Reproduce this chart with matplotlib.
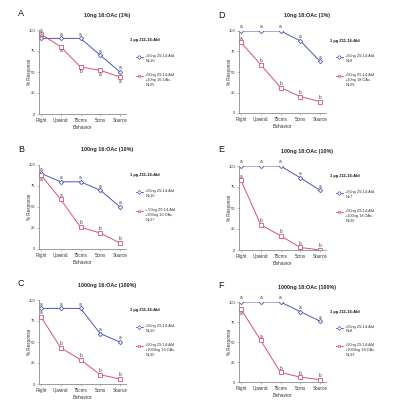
import numpy as np
import matplotlib
matplotlib.use("Agg")
import matplotlib.pyplot as plt
from matplotlib.lines import Line2D

plt.rcParams['font.family'] = ['Liberation Sans', 'DejaVu Sans']

## ------------------------------------------------------------
## 데이터
## ------------------------------------------------------------
behaviors = ["Flight", "Upwind", "75cms", "5cms", "Source"]
header = "1 µg Z11-16:Ald"

panel_ids = ["A", "B", "C", "D", "E", "F"]
titles = ["10ng 16:OAc (1%)", "100ng 16:OAc (10%)", "1000ng 16:OAc (100%)",
          "10ng 18:OAc (1%)", "100ng 18:OAc (10%)", "1000ng 18:OAc (100%)"]

blue_A = [90, 90, 90, 70, 50]
red_A  = [95, 80, 56, 52, 44]
blue_B = [90, 80, 80, 70, 50]
red_B  = [88, 59, 26, 19, 7]
blue_C = [90, 90, 90, 60, 50]
red_C  = [80, 43, 29, 11, 6]
blue_D = [100, 100, 100, 88, 63]
red_D  = [86, 59, 31, 20, 14]
blue_E = [100, 100, 100, 86, 71]
red_E  = [83, 30, 17, 3, 0]
blue_F = [100, 100, 100, 88, 76]
red_F  = [91, 52, 12, 6, 3]

blue_letters = ["a", "a", "a", "a", "a"]
red_let_A = ["a", "a", "b", "a", "a"]
red_let_B = ["a", "a", "b", "b", "b"]
red_let_C = ["a", "b", "b", "b", "b"]
red_let_D = ["a", "b", "b", "b", "b"]
red_let_E = ["a", "b", "b", "b", "b"]
red_let_F = ["a", "a", "b", "b", "b"]

blue_labels = ["+50ng Z9-14:Ald,\nN=10", "+50ng Z9-14:Ald,\nN=10", "+50ng Z9-14:Ald,\nN=10",
               "+50ng Z9-14:Ald,\nN=8", "+50ng Z9-14:Ald,\nN=7", "+50ng Z9-14:Ald,\nN=8"]
red_labels = ["+50ng Z9-14:Ald\n+10ng 16:OAc,\nN=25",
              "+ 50ng Z9-14:Ald\n+100ng 16:OAc,\nN=27",
              "+50ng Z9-14:Ald\n+1000ng 16:OAc,\nN=35",
              "+50ng Z9-14:Ald\n+10ng 18:OAc,\nN=29",
              "+50ng Z9-14:Ald\n+100ng 18:OAc,\nN=30",
              "+50ng Z9-14:Ald\n+1000ng 18:OAc,\nN=33"]

blues = [blue_A, blue_B, blue_C, blue_D, blue_E, blue_F]
reds  = [red_A, red_B, red_C, red_D, red_E, red_F]
red_letters = [red_let_A, red_let_B, red_let_C, red_let_D, red_let_E, red_let_F]

## 빨간 글자 위치 (1=위, -1=아래)
red_side = [[1, -1, -1, -1, -1],
            [-1, 1, 1, 1, 1],
            [1, 1, 1, 1, 1],
            [1, 1, 1, 1, 1],
            [1, 1, 1, 1, 1],
            [-1, 1, 1, 1, 1]]

BLUE = "#4a58b4"
RED = "#d8507d"
GRAY = "#8a8a8a"

W, H = 407, 413
fig = plt.figure(figsize=(W / 100, H / 100), dpi=100)

## 패널 위치 (픽셀: 왼쪽, y=100 위치, y=0 위치)
boxes = [(39, 30, 114), (39, 165, 249), (39, 300, 384),
         (239, 31, 113), (239, 166, 250), (239, 302, 382)]
ax_w = 87

x = np.arange(len(behaviors))

for i, (left, top, bot) in enumerate(boxes):
    ax = fig.add_axes([left / W, 1 - bot / H, ax_w / W, (bot - top) / H])

    ax.plot(x, blues[i], color=BLUE, lw=0.7, marker="D", ms=2.2,
            mfc="white", mec=BLUE, mew=0.6)
    ax.plot(x, reds[i], color=RED, lw=0.7, marker="s", ms=2.2,
            mfc="white", mec=RED, mew=0.6)

    # 통계 글자
    for j in range(len(x)):
        ax.annotate(blue_letters[j], (x[j], blues[i][j]), xytext=(0, 1.2),
                    textcoords="offset points", ha="center", va="bottom",
                    fontsize=3.4, color="#333333")
        side = red_side[i][j]
        ax.annotate(red_letters[i][j], (x[j], reds[i][j]),
                    xytext=(0, 1.2 * side), textcoords="offset points",
                    ha="center", va="bottom" if side > 0 else "top",
                    fontsize=3.4, color="#333333")

    ax.set_xlim(-0.1, 4.3)
    ax.set_ylim(0, 100)
    ax.set_xticks(x)
    ax.set_xticklabels(behaviors, fontsize=3.3)
    ax.set_yticks([0, 25, 50, 75, 100])
    ax.tick_params(axis="y", labelsize=3.0, length=1.5, width=0.4, pad=1, colors=GRAY, labelcolor="#333333")
    ax.tick_params(axis="x", length=1.5, width=0.4, pad=1.5, colors=GRAY, labelcolor="#333333")
    for s in ["top", "right"]:
        ax.spines[s].set_visible(False)
    for s in ["left", "bottom"]:
        ax.spines[s].set_color(GRAY)
        ax.spines[s].set_linewidth(0.6)
    ax.set_xlabel("Behavior", fontsize=3.5, labelpad=1.5, color="#333333")
    ax.set_ylabel("% Response", fontsize=3.3, labelpad=1, color="#333333")
    ax.yaxis.set_label_coords(-0.085, 0.5)

    # 제목 / 패널 글자
    fig.text((left + 68) / W, 1 - (top - 15) / H, titles[i], fontsize=3.9,
             fontweight="bold", ha="center", va="center", color="#222222")
    fig.text((left - 21) / W, 1 - (top - 16) / H, panel_ids[i], fontsize=6.5,
             ha="left", va="center", color="#111111")

    # 범례 (수동)
    ax.text(1.05, 0.88, header, transform=ax.transAxes, fontsize=2.9,
            fontweight="bold", ha="left", va="center", color="#111111")
    for yy, col, mk, lab in [(0.68, BLUE, "D", blue_labels[i]),
                             (0.45, RED, "s", red_labels[i])]:
        ax.add_line(Line2D([1.11, 1.19], [yy, yy], transform=ax.transAxes,
                           color=col, lw=0.6, clip_on=False))
        ax.add_line(Line2D([1.15], [yy], transform=ax.transAxes, marker=mk,
                           ms=2.0, mfc="white", mec=col, mew=0.5, clip_on=False))
        ax.text(1.22, yy + 0.037, lab, transform=ax.transAxes, fontsize=2.75,
                ha="left", va="top", color="#333333", linespacing=1.25)

fig.savefig("out.png", dpi=100)
